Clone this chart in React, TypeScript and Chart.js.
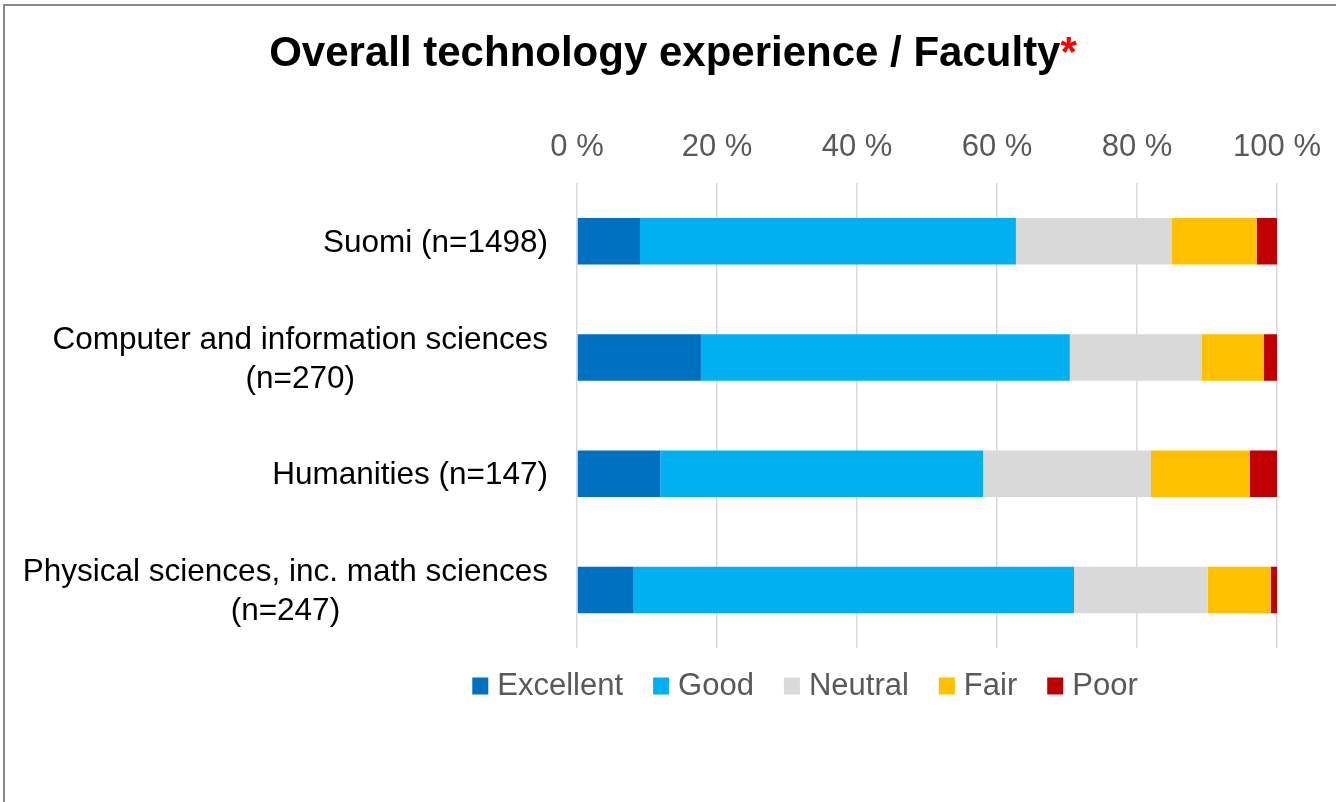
import React, { useEffect, useRef } from "react";
import { Chart, registerables } from "chart.js";

Chart.register(...registerables);

// ---- data ----
const categories: string[][] = [
  ["Suomi (n=1498)"],
  ["Computer and information sciences", "(n=270)"],
  ["Humanities (n=147)"],
  ["Physical sciences, inc. math sciences", "(n=247)"],
];
const seriesNames = ["Excellent", "Good", "Neutral", "Fair", "Poor"];
const excellent = [9.0, 17.7, 11.9, 8.0];
const good = [53.7, 52.7, 46.1, 63.0];
const neutral = [22.3, 18.8, 24.0, 19.1];
const fair = [12.1, 8.9, 14.1, 9.0];
const poor = [2.9, 1.9, 3.9, 0.9];
const xTickValues = [0, 20, 40, 60, 80, 100];
const titleText = "Overall technology experience / Faculty";
const titleMark = "*";

// ---- styles ----
const seriesColors = ["#0070C0", "#00B0F0", "#D9D9D9", "#FFC000", "#C00000"];
const FONT = "'Liberation Sans', Arial, Helvetica, sans-serif";
const W = 1336;
const H = 802;

const customDraw = {
  id: "customDraw",
  afterDraw(chart: any) {
    const ctx = chart.ctx as CanvasRenderingContext2D;
    const area = chart.chartArea;
    ctx.save();

    // Title
    ctx.font = `bold 42px ${FONT}`;
    ctx.textBaseline = "alphabetic";
    ctx.textAlign = "left";
    const w1 = ctx.measureText(titleText).width;
    const w2 = ctx.measureText(titleMark).width;
    const tx = W / 2 + 5 - (w1 + w2) / 2;
    ctx.fillStyle = "#000000";
    ctx.fillText(titleText, tx, 66);
    ctx.fillStyle = "#FF0000";
    ctx.fillText(titleMark, tx + w1, 66);

    // Y category labels (right-aligned block, lines centered within block)
    ctx.font = `31.5px ${FONT}`;
    ctx.fillStyle = "#000000";
    ctx.textBaseline = "middle";
    const yScale = chart.scales.y;
    const rightEdge = area.left - 29;
    const lineGap = 39;
    chart.data.labels.forEach((lab: string[], i: number) => {
      const lines = Array.isArray(lab) ? lab : [lab];
      const cy = yScale.getPixelForValue(i) + 2;
      const widths = lines.map((l) => ctx.measureText(l).width);
      const maxW = Math.max(...widths);
      const blockCenter = rightEdge - maxW / 2;
      ctx.textAlign = "center";
      lines.forEach((l, k) => {
        const y = cy + (k - (lines.length - 1) / 2) * lineGap;
        ctx.fillText(l, blockCenter, y);
      });
    });

    // Legend
    ctx.font = `31px ${FONT}`;
    ctx.textAlign = "left";
    ctx.textBaseline = "middle";
    const box = 16;
    const boxGap = 9;
    const itemGap = 30;
    const items = chart.data.datasets.map((d: any) => ({
      label: d.label,
      color: d.backgroundColor,
      w: ctx.measureText(d.label).width,
    }));
    const total =
      items.reduce((s: number, it: any) => s + box + boxGap + it.w, 0) +
      itemGap * (items.length - 1);
    let x = 805 - total / 2;
    const ly = 686;
    items.forEach((it: any) => {
      ctx.fillStyle = it.color;
      ctx.fillRect(x, ly - box / 2 - 0.5, box, box + 1);
      ctx.fillStyle = "#595959";
      ctx.fillText(it.label, x + box + boxGap, ly);
      x += box + boxGap + it.w + itemGap;
    });

    ctx.restore();
  },
};

export default function App() {
  const ref = useRef<HTMLCanvasElement | null>(null);

  useEffect(() => {
    if (!ref.current) return;
    const seriesData = [excellent, good, neutral, fair, poor];
    const chart = new Chart(ref.current, {
      type: "bar",
      data: {
        labels: categories as any,
        datasets: seriesNames.map((name, i) => ({
          label: name,
          data: seriesData[i],
          backgroundColor: seriesColors[i],
          borderWidth: 0,
          barPercentage: 0.4,
          categoryPercentage: 1.0,
        })),
      },
      options: {
        indexAxis: "y",
        responsive: false,
        animation: false,
        devicePixelRatio: 1,
        layout: {
          padding: { top: 129, left: 577, right: 59, bottom: 154 },
        },
        scales: {
          x: {
            position: "top",
            stacked: true,
            min: 0,
            max: 100,
            afterBuildTicks: (scale: any) => {
              scale.ticks = xTickValues.map((v) => ({ value: v }));
            },
            ticks: {
              color: "#595959",
              font: { size: 31, family: FONT },
              padding: 0,
              maxRotation: 0,
              callback: (v: any) => `${v} %`,
            },
            grid: {
              color: "#D9D9D9",
              lineWidth: 1.5,
              drawTicks: true,
              tickLength: 17,
              tickColor: "rgba(0,0,0,0)",
            },
            border: { display: false },
          },
          y: {
            stacked: true,
            display: false,
          },
        },
        plugins: {
          legend: { display: false },
          title: { display: false },
          tooltip: { enabled: false },
        },
      },
      plugins: [customDraw],
    });
    return () => chart.destroy();
  }, []);

  return (
    <div
      style={{
        position: "fixed",
        left: 0,
        top: 0,
        width: W,
        height: H,
        overflow: "hidden",
        background: "#ffffff",
      }}
    >
      <div
        style={{
          position: "absolute",
          left: 3,
          top: 4,
          width: W - 5,
          height: H - 6,
          borderLeft: "2px solid #898989",
          borderTop: "2px solid #898989",
        }}
      />
      <canvas
        ref={ref}
        width={W}
        height={H}
        style={{ position: "absolute", left: 0, top: 0, display: "block" }}
      />
    </div>
  );
}
